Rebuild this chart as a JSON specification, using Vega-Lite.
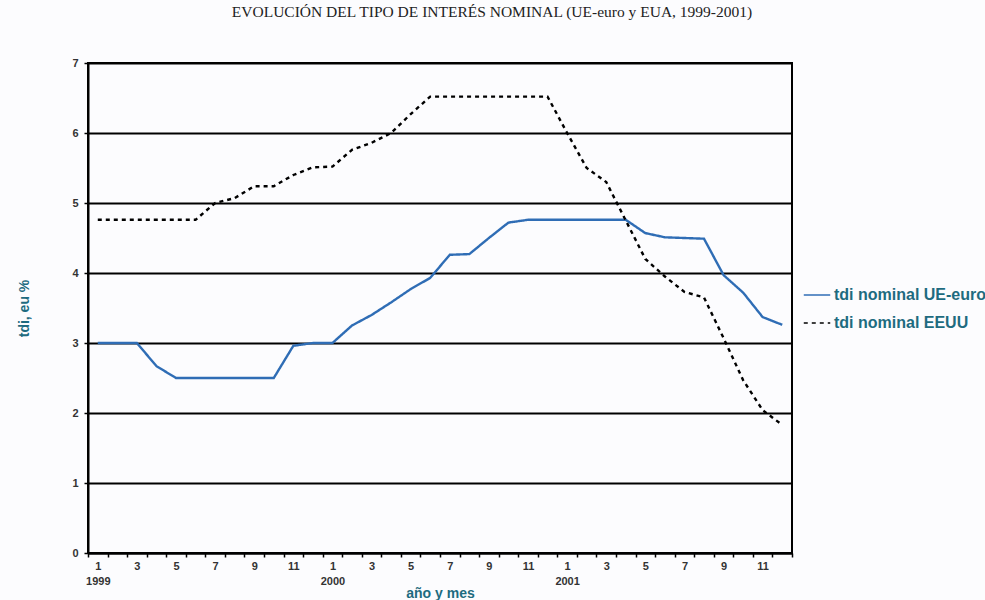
{
  "$schema": "https://vega.github.io/schema/vega-lite/v6.json",
  "width": 704,
  "height": 490,
  "autosize": {"type": "none"},
  "padding": {"left": 88, "top": 63, "right": 193, "bottom": 47},
  "background": "#fcfcfe",
  "title": {
    "text": "EVOLUCIÓN DEL TIPO DE INTERÉS NOMINAL (UE-euro y EUA, 1999-2001)",
    "font": "Liberation Serif",
    "fontSize": 15.5,
    "fontWeight": "normal",
    "color": "#222222",
    "anchor": "middle",
    "dx": 52,
    "offset": 37
  },
  "config": {
    "view": {"stroke": "#000000", "strokeWidth": 2},
    "axis": {
      "labelFont": "Liberation Sans",
      "labelFontWeight": "bold",
      "labelColor": "#333333",
      "titleFont": "Liberation Sans",
      "titleFontWeight": "bold",
      "titleFontSize": 14,
      "titleColor": "#1e6b80",
      "domainColor": "#000000",
      "domainWidth": 2,
      "tickColor": "#000000",
      "tickWidth": 1.5,
      "tickSize": 4
    }
  },
  "data": {
    "values": [
      {"periodo": "1999-01", "serie": "tdi nominal UE-euro", "valor": 3.0},
      {"periodo": "1999-02", "serie": "tdi nominal UE-euro", "valor": 3.0},
      {"periodo": "1999-03", "serie": "tdi nominal UE-euro", "valor": 3.0},
      {"periodo": "1999-04", "serie": "tdi nominal UE-euro", "valor": 2.67},
      {"periodo": "1999-05", "serie": "tdi nominal UE-euro", "valor": 2.5},
      {"periodo": "1999-06", "serie": "tdi nominal UE-euro", "valor": 2.5},
      {"periodo": "1999-07", "serie": "tdi nominal UE-euro", "valor": 2.5},
      {"periodo": "1999-08", "serie": "tdi nominal UE-euro", "valor": 2.5},
      {"periodo": "1999-09", "serie": "tdi nominal UE-euro", "valor": 2.5},
      {"periodo": "1999-10", "serie": "tdi nominal UE-euro", "valor": 2.5},
      {"periodo": "1999-11", "serie": "tdi nominal UE-euro", "valor": 2.96},
      {"periodo": "1999-12", "serie": "tdi nominal UE-euro", "valor": 3.0},
      {"periodo": "2000-01", "serie": "tdi nominal UE-euro", "valor": 3.0},
      {"periodo": "2000-02", "serie": "tdi nominal UE-euro", "valor": 3.25},
      {"periodo": "2000-03", "serie": "tdi nominal UE-euro", "valor": 3.4},
      {"periodo": "2000-04", "serie": "tdi nominal UE-euro", "valor": 3.58},
      {"periodo": "2000-05", "serie": "tdi nominal UE-euro", "valor": 3.77},
      {"periodo": "2000-06", "serie": "tdi nominal UE-euro", "valor": 3.93},
      {"periodo": "2000-07", "serie": "tdi nominal UE-euro", "valor": 4.26},
      {"periodo": "2000-08", "serie": "tdi nominal UE-euro", "valor": 4.27},
      {"periodo": "2000-09", "serie": "tdi nominal UE-euro", "valor": 4.5},
      {"periodo": "2000-10", "serie": "tdi nominal UE-euro", "valor": 4.72},
      {"periodo": "2000-11", "serie": "tdi nominal UE-euro", "valor": 4.76},
      {"periodo": "2000-12", "serie": "tdi nominal UE-euro", "valor": 4.76},
      {"periodo": "2001-01", "serie": "tdi nominal UE-euro", "valor": 4.76},
      {"periodo": "2001-02", "serie": "tdi nominal UE-euro", "valor": 4.76},
      {"periodo": "2001-03", "serie": "tdi nominal UE-euro", "valor": 4.76},
      {"periodo": "2001-04", "serie": "tdi nominal UE-euro", "valor": 4.76},
      {"periodo": "2001-05", "serie": "tdi nominal UE-euro", "valor": 4.57},
      {"periodo": "2001-06", "serie": "tdi nominal UE-euro", "valor": 4.51},
      {"periodo": "2001-07", "serie": "tdi nominal UE-euro", "valor": 4.5},
      {"periodo": "2001-08", "serie": "tdi nominal UE-euro", "valor": 4.49},
      {"periodo": "2001-09", "serie": "tdi nominal UE-euro", "valor": 3.97},
      {"periodo": "2001-10", "serie": "tdi nominal UE-euro", "valor": 3.72},
      {"periodo": "2001-11", "serie": "tdi nominal UE-euro", "valor": 3.37},
      {"periodo": "2001-12", "serie": "tdi nominal UE-euro", "valor": 3.26},
      {"periodo": "1999-01", "serie": "tdi nominal EEUU", "valor": 4.76},
      {"periodo": "1999-02", "serie": "tdi nominal EEUU", "valor": 4.76},
      {"periodo": "1999-03", "serie": "tdi nominal EEUU", "valor": 4.76},
      {"periodo": "1999-04", "serie": "tdi nominal EEUU", "valor": 4.76},
      {"periodo": "1999-05", "serie": "tdi nominal EEUU", "valor": 4.76},
      {"periodo": "1999-06", "serie": "tdi nominal EEUU", "valor": 4.76},
      {"periodo": "1999-07", "serie": "tdi nominal EEUU", "valor": 5.0},
      {"periodo": "1999-08", "serie": "tdi nominal EEUU", "valor": 5.07},
      {"periodo": "1999-09", "serie": "tdi nominal EEUU", "valor": 5.24},
      {"periodo": "1999-10", "serie": "tdi nominal EEUU", "valor": 5.24},
      {"periodo": "1999-11", "serie": "tdi nominal EEUU", "valor": 5.4},
      {"periodo": "1999-12", "serie": "tdi nominal EEUU", "valor": 5.51},
      {"periodo": "2000-01", "serie": "tdi nominal EEUU", "valor": 5.52},
      {"periodo": "2000-02", "serie": "tdi nominal EEUU", "valor": 5.76},
      {"periodo": "2000-03", "serie": "tdi nominal EEUU", "valor": 5.86},
      {"periodo": "2000-04", "serie": "tdi nominal EEUU", "valor": 6.0},
      {"periodo": "2000-05", "serie": "tdi nominal EEUU", "valor": 6.27},
      {"periodo": "2000-06", "serie": "tdi nominal EEUU", "valor": 6.52},
      {"periodo": "2000-07", "serie": "tdi nominal EEUU", "valor": 6.52},
      {"periodo": "2000-08", "serie": "tdi nominal EEUU", "valor": 6.52},
      {"periodo": "2000-09", "serie": "tdi nominal EEUU", "valor": 6.52},
      {"periodo": "2000-10", "serie": "tdi nominal EEUU", "valor": 6.52},
      {"periodo": "2000-11", "serie": "tdi nominal EEUU", "valor": 6.52},
      {"periodo": "2000-12", "serie": "tdi nominal EEUU", "valor": 6.52},
      {"periodo": "2001-01", "serie": "tdi nominal EEUU", "valor": 6.0},
      {"periodo": "2001-02", "serie": "tdi nominal EEUU", "valor": 5.5},
      {"periodo": "2001-03", "serie": "tdi nominal EEUU", "valor": 5.3},
      {"periodo": "2001-04", "serie": "tdi nominal EEUU", "valor": 4.75},
      {"periodo": "2001-05", "serie": "tdi nominal EEUU", "valor": 4.2},
      {"periodo": "2001-06", "serie": "tdi nominal EEUU", "valor": 3.95},
      {"periodo": "2001-07", "serie": "tdi nominal EEUU", "valor": 3.73},
      {"periodo": "2001-08", "serie": "tdi nominal EEUU", "valor": 3.65},
      {"periodo": "2001-09", "serie": "tdi nominal EEUU", "valor": 3.07},
      {"periodo": "2001-10", "serie": "tdi nominal EEUU", "valor": 2.47},
      {"periodo": "2001-11", "serie": "tdi nominal EEUU", "valor": 2.04},
      {"periodo": "2001-12", "serie": "tdi nominal EEUU", "valor": 1.83}
    ]
  },
  "mark": {"type": "line", "strokeWidth": 2.4},
  "encoding": {
    "x": {
      "field": "periodo",
      "type": "ordinal",
      "scale": {"type": "band", "paddingInner": 0, "paddingOuter": 0},
      "axis": {
        "title": "año y mes",
        "titlePadding": 0,
        "labelAngle": 0,
        "labelFontSize": 11,
        "labelPadding": 3,
        "labelLineHeight": 15,
        "tickBand": "extent",
        "grid": false,
        "labelExpr": "toNumber(split(datum.value,'-')[1]) % 2 == 1 ? (toNumber(split(datum.value,'-')[1]) == 1 ? ['1', split(datum.value,'-')[0]] : '' + toNumber(split(datum.value,'-')[1])) : ''"
      }
    },
    "y": {
      "field": "valor",
      "type": "quantitative",
      "scale": {"domain": [0, 7], "nice": false},
      "axis": {
        "title": "tdi, eu %",
        "values": [0, 1, 2, 3, 4, 5, 6, 7],
        "grid": true,
        "gridColor": "#000000",
        "gridWidth": 2,
        "gridOpacity": 1,
        "labelFontSize": 11,
        "labelPadding": 6,
        "titlePadding": 40
      }
    },
    "color": {
      "field": "serie",
      "type": "nominal",
      "scale": {"domain": ["tdi nominal UE-euro", "tdi nominal EEUU"], "range": ["#2f6db5", "#000000"]},
      "legend": {
        "title": null,
        "orient": "none",
        "legendX": 715,
        "legendY": 218,
        "labelFont": "Liberation Sans",
        "labelFontWeight": "bold",
        "labelFontSize": 16,
        "labelColor": "#1e6b80",
        "symbolStrokeColor": "#1e6b80",
        "symbolStrokeWidth": 1.5,
        "symbolSize": 700,
        "labelOffset": 3,
        "rowPadding": 6
      }
    },
    "strokeDash": {
      "field": "serie",
      "type": "nominal",
      "scale": {"domain": ["tdi nominal UE-euro", "tdi nominal EEUU"], "range": [[1, 0], [4, 4]]},
      "legend": null
    }
  }
}
